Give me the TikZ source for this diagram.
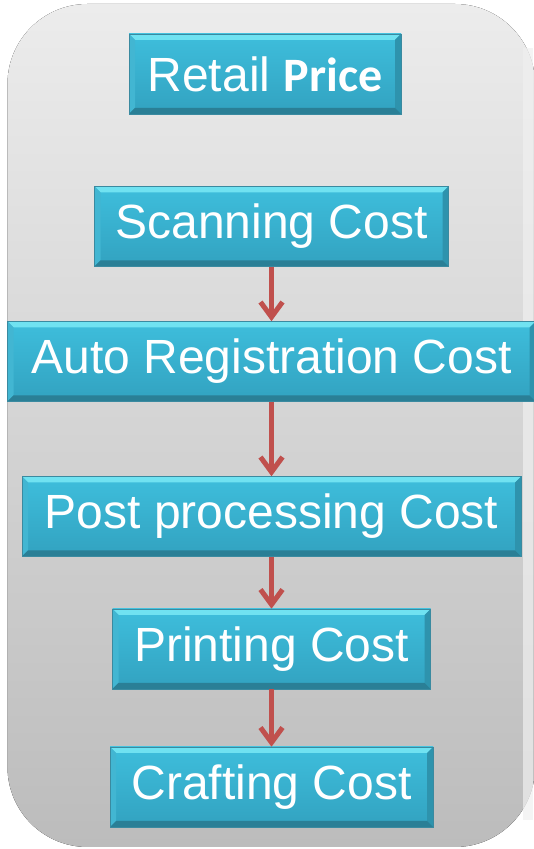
\documentclass[tikz,border=0pt]{standalone}
\usepackage{fontspec}
\setmainfont{Liberation Sans}
\newfontfamily\calibri{Carlito}
\usetikzlibrary{arrows.meta}
\definecolor{bgtop}{HTML}{ECECEC}
\definecolor{bgbot}{HTML}{BCBCBC}
\definecolor{facetop}{HTML}{3EBEDC}
\definecolor{facebot}{HTML}{32A2C0}
\definecolor{bevtop}{HTML}{70E2F1}
\definecolor{bevleft}{HTML}{42B6D2}
\definecolor{bevright}{HTML}{2E93AD}
\definecolor{bevbot}{HTML}{2A7F96}
\definecolor{boxedge}{HTML}{3A8AA0}
\definecolor{arrowred}{HTML}{C0504D}

\begin{document}
\begin{tikzpicture}[x=1pt,y=1pt]
\tikzstyle{costbox}=[minimum height=80pt, inner sep=0pt, text=white,
  font=\fontsize{48}{56}\selectfont, draw=boxedge, line width=0.5pt,
  path picture={
    \coordinate (nw) at (path picture bounding box.north west);
    \coordinate (ne) at (path picture bounding box.north east);
    \coordinate (sw) at (path picture bounding box.south west);
    \coordinate (se) at (path picture bounding box.south east);
    \fill[top color=facetop, bottom color=facebot] (sw) rectangle (ne);
    \fill[bevtop] (nw) -- (ne) -- ([shift={(-6pt,-6pt)}]ne) -- ([shift={(6pt,-6pt)}]nw) -- cycle;
    \fill[bevleft] (nw) -- ([shift={(6pt,-6pt)}]nw) -- ([shift={(6pt,6pt)}]sw) -- (sw) -- cycle;
    \fill[bevright] (ne) -- ([shift={(-6pt,-6pt)}]ne) -- ([shift={(-6pt,6pt)}]se) -- (se) -- cycle;
    \fill[bevbot] (sw) -- (se) -- ([shift={(-6pt,6pt)}]se) -- ([shift={(6pt,6pt)}]sw) -- cycle;
  }]
\tikzstyle{flow}=[draw=arrowred, line width=5pt, -{Straight Barb[length=15pt,width=22pt]}]
\useasboundingbox (0,0) rectangle (533,849);
% background panel
\fill[top color=bgtop, bottom color=bgbot, rounded corners=80pt] (7.5,2) rectangle (535,845);
\fill[gray!12, opacity=0.7] (523,29) rectangle (533,801);
% boxes
\draw (265,775) node (retail) [costbox, minimum width=272pt] {Retail {\calibri\bfseries Price}};
\draw (271.5,622.5) node (scan) [costbox, minimum width=354pt] {Scanning Cost};
\draw (271.5,487.5) node (autoreg) [costbox, minimum width=528pt] {Auto Registration Cost};
\draw (271.5,332.5) node (post) [costbox, minimum width=499pt] {Post processing Cost};
\draw (271.5,200) node (print) [costbox, minimum width=318pt] {Printing Cost};
\draw (271.5,62) node (craft) [costbox, minimum width=323pt] {Crafting Cost};
\draw[flow] (scan) -- (autoreg);
\draw[flow] (autoreg) -- (post);
\draw[flow] (post) -- (print);
\draw[flow] (print) -- (craft);
\end{tikzpicture}
\end{document}
